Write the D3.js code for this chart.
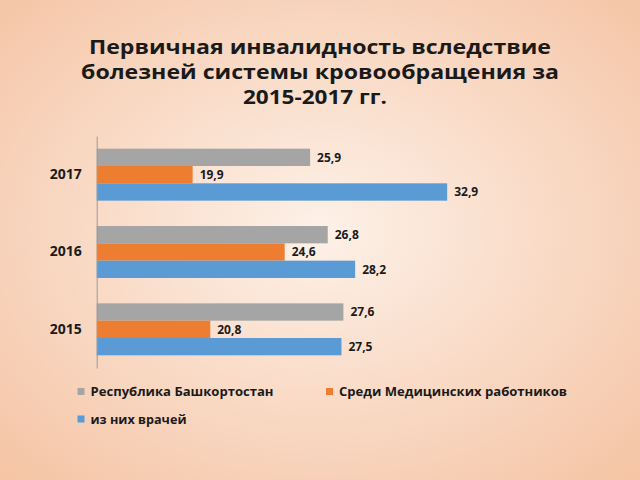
<!DOCTYPE html>
<html><head><meta charset="utf-8">
<script src="https://cdn.jsdelivr.net/npm/d3@7"></script>
<style>html,body{margin:0;padding:0;}svg{display:block;}</style>
</head><body>
<script>
const years = ["2017", "2016", "2015"];
const seriesNames = ["Республика Башкортостан", "Среди Медицинских работников", "из них врачей"];
const seriesColors = ["#A5A5A5", "#ED7D31", "#5B9BD5"];
const valuesRB = [25.9, 26.8, 27.6];
const valuesMed = [19.9, 24.6, 20.8];
const valuesDoc = [32.9, 28.2, 27.5];
const titleLines = ["Первичная инвалидность вследствие", "болезней системы кровообращения за", "2015-2017 гг."];

const W = 640, H = 480;
const svg = d3.select("body").append("svg").attr("width", W).attr("height", H);
const defs = svg.append("defs");
const rg = defs.append("radialGradient").attr("id", "bg").attr("cx", "50%").attr("cy", "48%").attr("r", "70%");
rg.append("stop").attr("offset", "0%").attr("stop-color", "#FDF1E8");
rg.append("stop").attr("offset", "100%").attr("stop-color", "#F5C5A6");
svg.append("rect").attr("width", W).attr("height", H).attr("fill", "url(#bg)");

const font = "'Open Sans', 'DejaVu Sans', sans-serif";

// title
const titleY = [53.5, 79, 104];
const titleX = [320, 320, 315];
const titleLen = [462, 478, 144];
svg.append("g").selectAll("text").data(titleLines).join("text")
  .attr("x", (d, i) => titleX[i]).attr("y", (d, i) => titleY[i])
  .attr("text-anchor", "middle")
  .attr("font-family", font).attr("font-weight", "bold").attr("font-size", 19.5)
  .attr("fill", "#1a1a1a")
  .attr("textLength", (d, i) => titleLen[i]).attr("lengthAdjust", "spacingAndGlyphs")
  .text(d => d);

const data = years.map((y, i) => ({year: y, vals: [valuesRB[i], valuesMed[i], valuesDoc[i]]}));

const x = d3.scaleLinear().domain([15, 35]).range([96.7, 488.3]);
const y0 = d3.scaleBand().domain(years).range([136, 368]).paddingInner(0.328).paddingOuter(0.164);
const y1 = d3.scaleBand().domain(d3.range(3)).range([0, y0.bandwidth()]);

const g = svg.append("g");
const groups = g.selectAll("g.grp").data(data).join("g").attr("class", "grp")
  .attr("transform", d => `translate(0,${y0(d.year)})`);
groups.selectAll("rect").data(d => d.vals).join("rect")
  .attr("x", x(15)).attr("y", (d, i) => y1(i))
  .attr("width", d => x(d) - x(15)).attr("height", y1.bandwidth())
  .attr("fill", (d, i) => seriesColors[i]);
groups.selectAll("text").data(d => d.vals).join("text")
  .attr("x", d => x(d) + 7).attr("y", (d, i) => y1(i) + y1.bandwidth() / 2)
  .attr("dy", "0.36em")
  .attr("font-family", font).attr("font-weight", "bold").attr("font-size", 12)
  .attr("fill", "#1a1a1a")
  .text(d => d.toFixed(1).replace(".", ","));

// axis
const yAxis = d3.axisLeft(y0).tickSize(0).tickPadding(15);
const ax = svg.append("g").attr("transform", `translate(${x(15)},0)`).call(yAxis);
ax.select(".domain").attr("stroke", "#9a9a9a").attr("stroke-width", 1);
ax.selectAll("text").attr("font-family", font).attr("font-weight", "bold").attr("font-size", 14).attr("fill", "#1a1a1a");

// legend
const legPos = [[77.5, 391.5], [326, 391.5], [77.5, 419]];
const legLen = [183, 228, 96];
const leg = svg.append("g").selectAll("g").data(seriesNames).join("g")
  .attr("transform", (d, i) => `translate(${legPos[i][0]},${legPos[i][1]})`);
leg.append("rect").attr("x", 0).attr("y", -3.5).attr("width", 7).attr("height", 7).attr("fill", (d, i) => seriesColors[i]);
leg.append("text").attr("x", 13).attr("y", 0).attr("dy", "0.36em")
  .attr("font-family", font).attr("font-weight", "bold").attr("font-size", 13)
  .attr("fill", "#1a1a1a")
  .attr("textLength", (d, i) => legLen[i]).attr("lengthAdjust", "spacingAndGlyphs")
  .text(d => d);
</script>
</body></html>
